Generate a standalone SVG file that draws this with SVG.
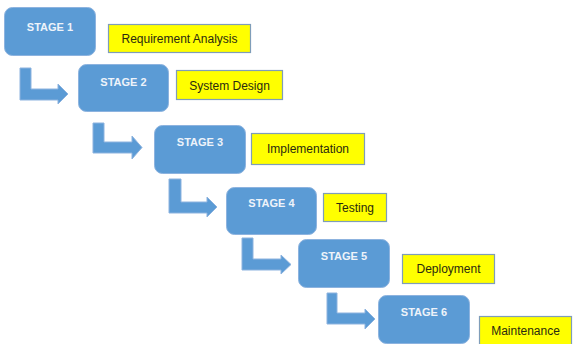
<svg xmlns="http://www.w3.org/2000/svg" width="573" height="344" viewBox="0 0 573 344">
<style>
.stage{fill:#5b9bd5;stroke:#8db3df;stroke-width:1}
.st{font-family:"Liberation Sans",Arial,sans-serif;font-size:11px;font-weight:bold;fill:#eef3fa;text-anchor:middle}
.lab{fill:#ffff00;stroke:#7f9db9;stroke-width:1.2}
.lt{font-family:"Liberation Sans",Arial,sans-serif;font-size:12px;fill:#2a2a10;text-anchor:middle}
.arr{fill:#5b9bd5;stroke:#8db3df;stroke-width:1}
</style>
<rect width="573" height="344" fill="#ffffff"/>
<g id="connectors">
<path class="arr" d="M20,68 H31 V89 H58 V84 L68,94 L58,104 V100 H20 Z"/>
<path class="arr" d="M93,123 H104 V142 H132 V136 L142,147.5 L132,159 V153 H93 Z"/>
<path class="arr" d="M169,179 H181 V202 H207 V197 L217,207 L207,217 V213 H169 Z"/>
<path class="arr" d="M242,238 H253 V259 H281 V255 L291,264.5 L281,274 V270 H242 Z"/>
<path class="arr" d="M327,293 H337 V313 H365 V309 L375,319 L365,329 V324 H327 Z"/>
</g>
<g id="stage1"><rect class="stage" x="4.5" y="7.5" width="91" height="48" rx="8"/><text class="st" x="50" y="31">STAGE 1</text></g>
<g id="stage2"><rect class="stage" x="78.5" y="64.5" width="90" height="47" rx="8"/><text class="st" x="123.5" y="86">STAGE 2</text></g>
<g id="stage3"><rect class="stage" x="154.5" y="125.5" width="91" height="48" rx="8"/><text class="st" x="200" y="146">STAGE 3</text></g>
<g id="stage4"><rect class="stage" x="226.5" y="187.5" width="90" height="47" rx="8"/><text class="st" x="271.5" y="207">STAGE 4</text></g>
<g id="stage5"><rect class="stage" x="298.5" y="239.5" width="91" height="48" rx="8"/><text class="st" x="344" y="260">STAGE 5</text></g>
<g id="stage6"><rect class="stage" x="378.5" y="295.5" width="91" height="48" rx="8"/><text class="st" x="424" y="316">STAGE 6</text></g>
<g id="label1"><rect class="lab" x="108.5" y="24.5" width="142" height="28"/><text class="lt" x="179.5" y="43">Requirement Analysis</text></g>
<g id="label2"><rect class="lab" x="176.5" y="70.5" width="106" height="29"/><text class="lt" x="229.5" y="90">System Design</text></g>
<g id="label3"><rect class="lab" x="251.5" y="133.5" width="113" height="31"/><text class="lt" x="308" y="153">Implementation</text></g>
<g id="label4"><rect class="lab" x="323.5" y="193.5" width="63" height="28"/><text class="lt" x="355" y="212">Testing</text></g>
<g id="label5"><rect class="lab" x="402.5" y="254.5" width="92" height="29"/><text class="lt" x="448.5" y="273">Deployment</text></g>
<g id="label6"><rect class="lab" x="479.5" y="316.5" width="92" height="29"/><text class="lt" x="525.5" y="335">Maintenance</text></g>
</svg>
